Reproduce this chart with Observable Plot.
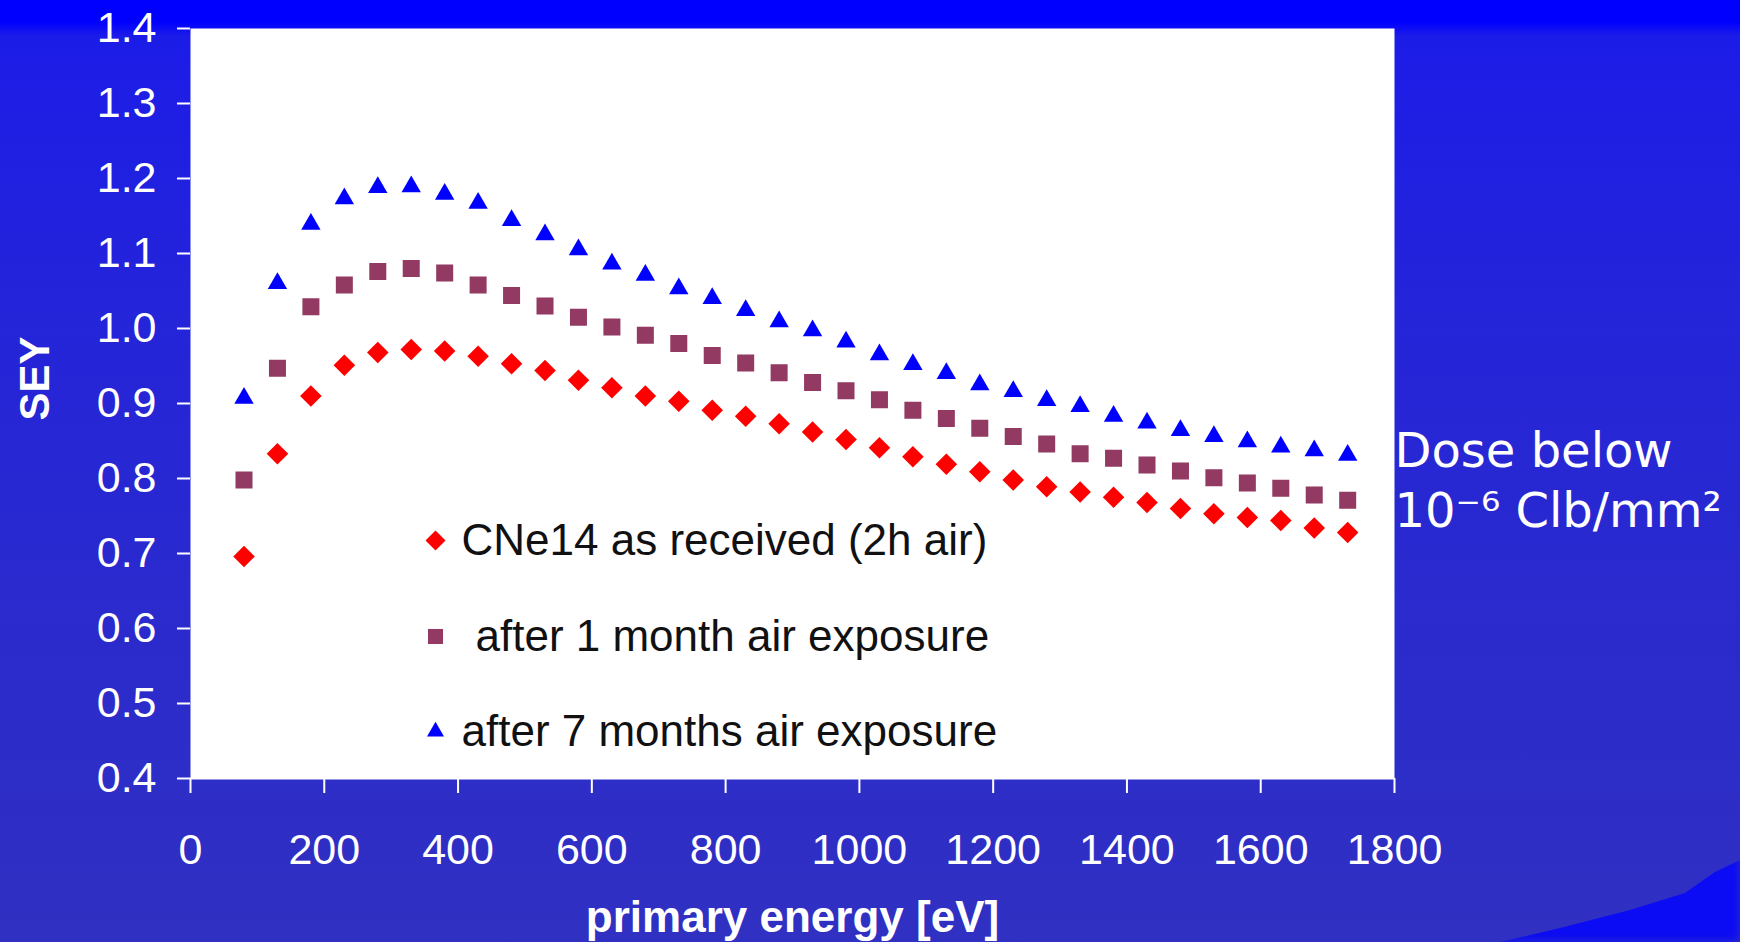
<!DOCTYPE html>
<html>
<head>
<meta charset="utf-8">
<script src="https://cdn.jsdelivr.net/npm/d3@7"></script>
<script src="https://cdn.jsdelivr.net/npm/@observablehq/plot@0.6"></script>
<style>
  html, body { margin: 0; padding: 0; width: 1740px; height: 942px; overflow: hidden; }
  body {
    position: relative;
    background:
      linear-gradient(to bottom, #0000ff 0px, #0000ff 22px, #1c1ce8 36px, #2424da 300px, #2b2bcc 650px, #3030c2 942px);
  }
  #blob {
    position: absolute; left: 0; top: 0; width: 1740px; height: 942px;
    background: #0b0bf4;
    clip-path: polygon(1500px 942px, 1560px 928px, 1630px 910px, 1685px 893px, 1715px 872px, 1740px 860px, 1740px 942px);
    filter: blur(5px);
  }
  #chart { position: absolute; left: 0; top: 0; }
</style>
</head>
<body>
<div id="blob"></div>
<div id="chart"></div>
<script>
// primary energy [eV]
const energy = [80, 130, 180, 230, 280, 330, 380, 430, 480, 530, 580, 630, 680, 730, 780, 830, 880,
                930, 980, 1030, 1080, 1130, 1180, 1230, 1280, 1330, 1380, 1430, 1480, 1530, 1580, 1630, 1680, 1730];

// SEY values per series
const asReceived = [0.696, 0.833, 0.910, 0.951, 0.968, 0.972, 0.970, 0.963, 0.953, 0.944, 0.931, 0.921,
                    0.910, 0.903, 0.891, 0.883, 0.873, 0.862, 0.852, 0.841, 0.829, 0.819, 0.809, 0.798,
                    0.789, 0.782, 0.775, 0.768, 0.760, 0.753, 0.748, 0.744, 0.734, 0.728];
const oneMonth = [0.798, 0.947, 1.029, 1.058, 1.076, 1.080, 1.074, 1.058, 1.044, 1.030, 1.015, 1.002,
                  0.991, 0.980, 0.964, 0.954, 0.941, 0.928, 0.917, 0.905, 0.891, 0.880, 0.867, 0.856,
                  0.846, 0.833, 0.827, 0.818, 0.810, 0.801, 0.794, 0.787, 0.778, 0.771];
const sevenMonths = [0.907, 1.060, 1.139, 1.173, 1.188, 1.189, 1.179, 1.167, 1.144, 1.125, 1.105, 1.086,
                     1.071, 1.053, 1.040, 1.024, 1.009, 0.997, 0.982, 0.965, 0.952, 0.940, 0.925, 0.916,
                     0.904, 0.896, 0.883, 0.874, 0.864, 0.856, 0.849, 0.842, 0.837, 0.831];

const seriesNames = ["CNe14 as received (2h air)", "after 1 month air exposure", "after 7 months air exposure"];
const xTicks = [0, 200, 400, 600, 800, 1000, 1200, 1400, 1600, 1800];
const yTicks = [0.4, 0.5, 0.6, 0.7, 0.8, 0.9, 1.0, 1.1, 1.2, 1.3, 1.4];

const rows = (vals) => energy.map((e, i) => ({energy: e, sey: vals[i]}));

// Excel-like diamond (square rotated 45°)
const diamond = {
  draw(ctx, size) {
    const r = Math.sqrt(size / 2);
    ctx.moveTo(0, -r); ctx.lineTo(r, 0); ctx.lineTo(0, r); ctx.lineTo(-r, 0); ctx.closePath();
  }
};

const RED = "#ff0000", PLUM = "#933a62", BLUE = "#0000ff";
const tickFont = "'Liberation Sans', Arial, Helvetica, sans-serif";

const chart = Plot.plot({
  width: 1740,
  height: 942,
  marginLeft: 190,
  marginRight: 346,
  marginTop: 28,
  marginBottom: 164,
  style: {background: "transparent", color: "white", fontFamily: tickFont, fontSize: "43px", overflow: "visible"},
  x: {domain: [0, 1800]},
  y: {domain: [0.4, 1.4]},
  marks: [
    Plot.frame({fill: "white", stroke: null}),
    Plot.axisX({ticks: xTicks, tickSize: 15, tickPadding: 40, stroke: "white", strokeWidth: 2, fill: "white", fontSize: 43, tickFormat: d => String(d), label: null}),
    Plot.axisY({ticks: yTicks, tickSize: 13, tickPadding: 21, stroke: "white", strokeWidth: 2, fill: "white", fontSize: 43, tickFormat: d => d.toFixed(1), label: null}),
    Plot.ruleY([0.4], {stroke: "white", strokeWidth: 2}),
    Plot.dot(rows(asReceived), {x: "energy", y: "sey", symbol: diamond, r: 8.6, fill: RED, stroke: null}),
    Plot.dot(rows(oneMonth), {x: "energy", y: "sey", symbol: "square", r: 9.6, fill: PLUM, stroke: null}),
    Plot.dot(rows(sevenMonths), {x: "energy", y: "sey", symbol: "triangle", r: 7.2, fill: BLUE, stroke: null}),

    // legend inside the plot
    Plot.dot([seriesNames[0]], {frameAnchor: "top-left", dx: 245, dy: 512, symbol: diamond, r: 8.0, fill: RED, stroke: null}),
    Plot.dot([seriesNames[1]], {frameAnchor: "top-left", dx: 245, dy: 608, symbol: "square", r: 8.5, fill: PLUM, stroke: null}),
    Plot.dot([seriesNames[2]], {frameAnchor: "top-left", dx: 245, dy: 703, symbol: "triangle", r: 6.3, fill: BLUE, stroke: null}),
    Plot.text([seriesNames[0]], {text: d => d, frameAnchor: "top-left", dx: 271, dy: 512, textAnchor: "start", lineAnchor: "middle", fill: "#111", fontSize: 44, fontFamily: tickFont}),
    Plot.text([seriesNames[1]], {text: d => d, frameAnchor: "top-left", dx: 285, dy: 608, textAnchor: "start", lineAnchor: "middle", fill: "#111", fontSize: 44, fontFamily: tickFont}),
    Plot.text([seriesNames[2]], {text: d => d, frameAnchor: "top-left", dx: 271, dy: 703, textAnchor: "start", lineAnchor: "middle", fill: "#111", fontSize: 44, fontFamily: tickFont}),

    // axis titles
    Plot.text(["SEY"], {text: d => d, frameAnchor: "left", dx: -155, dy: -25, rotate: -90, textAnchor: "middle", lineAnchor: "middle", fill: "white", fontSize: 42, fontWeight: "bold", fontFamily: tickFont}),
    Plot.text(["primary energy [eV]"], {text: d => d, frameAnchor: "bottom", dy: 153, textAnchor: "middle", lineAnchor: "bottom", fill: "white", fontSize: 44, fontWeight: "bold", fontFamily: tickFont}),

    // dose annotation
    Plot.text(["Dose below\n10⁻⁶ Clb/mm²"], {text: d => d, frameAnchor: "top-right", dx: 0, dy: 396, textAnchor: "start", lineAnchor: "top", lineHeight: 1.25, fill: "white", fontSize: 48, fontFamily: "'DejaVu Sans', Verdana, sans-serif"})
  ]
});

document.getElementById("chart").appendChild(chart);
</script>
</body>
</html>
